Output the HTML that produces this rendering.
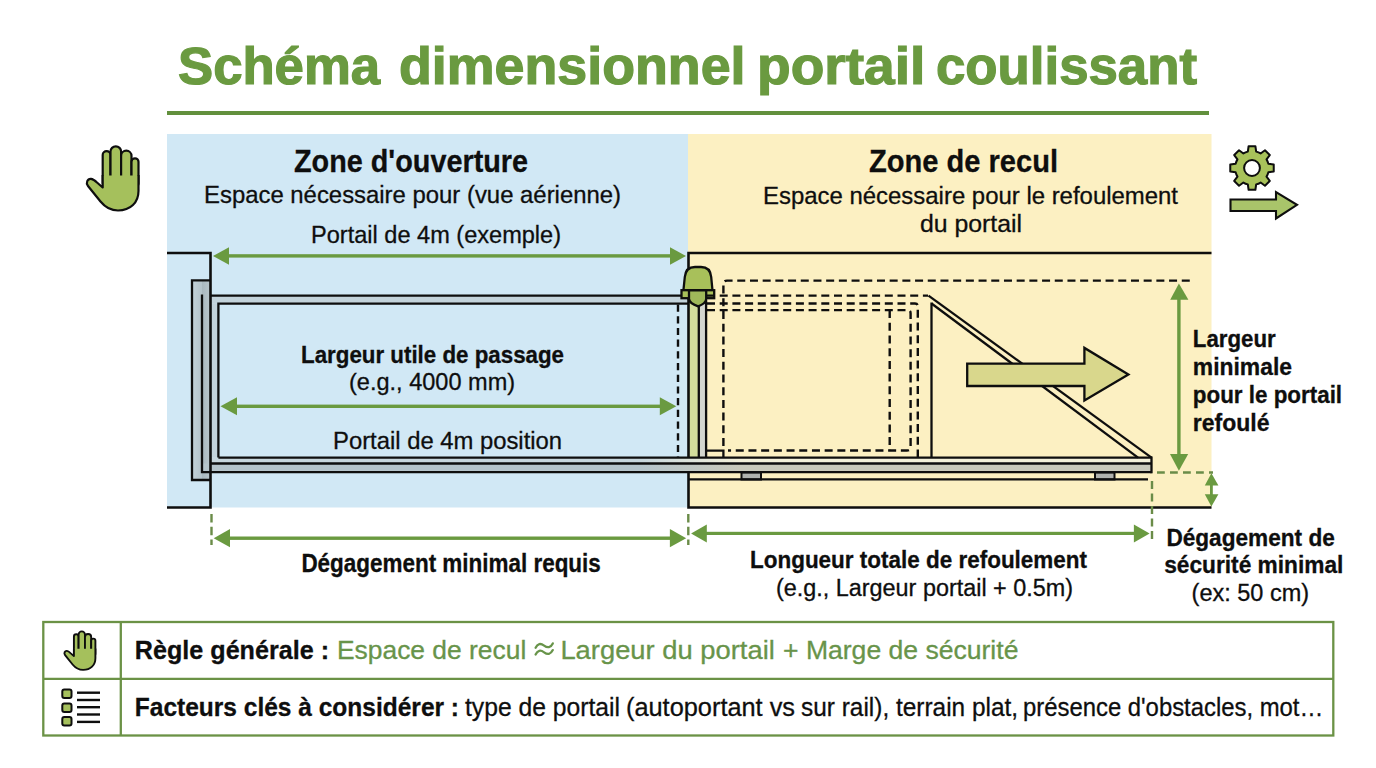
<!DOCTYPE html>
<html><head><meta charset="utf-8">
<style>
html,body{margin:0;padding:0;background:#fff;width:1376px;height:768px;overflow:hidden}
svg{display:block}
text{font-family:"Liberation Sans",sans-serif}
.b{font-weight:bold}
</style></head>
<body>
<svg width="1376" height="768" viewBox="0 0 1376 768">
<rect x="0" y="0" width="1376" height="768" fill="#ffffff"/>
<rect x="167" y="111" width="1042" height="4" fill="#62903d"/>
<rect x="167" y="134" width="521.5" height="373.5" fill="#d1e8f5"/>
<rect x="688" y="134" width="523.5" height="373.5" fill="#fcf0c2"/>
<defs><linearGradient id="gpost" x1="0" x2="1" y1="0" y2="0"><stop offset="0" stop-color="#c3d2d9"/><stop offset="1" stop-color="#b4c3ca"/></linearGradient><linearGradient id="gpost2" x1="0" x2="1" y1="0" y2="0"><stop offset="0" stop-color="#a9b8bf"/><stop offset="1" stop-color="#b9c6cc"/></linearGradient></defs>
<rect x="192" y="280" width="10" height="200" fill="url(#gpost)"/>
<rect x="202" y="280" width="8.5" height="200" fill="url(#gpost2)"/>
<rect x="210.5" y="295.6" width="478" height="8.1" fill="#c3d3db"/>
<rect x="210.5" y="303.7" width="7.9" height="154" fill="#c3d3db"/>
<defs><linearGradient id="rup" gradientUnits="userSpaceOnUse" x1="640" x2="740" y1="0" y2="0"><stop offset="0" stop-color="#c7d6dd"/><stop offset="1" stop-color="#f3f0d9"/></linearGradient><linearGradient id="rlo" gradientUnits="userSpaceOnUse" x1="640" x2="740" y1="0" y2="0"><stop offset="0" stop-color="#b5c4cb"/><stop offset="1" stop-color="#c9c9bb"/></linearGradient></defs>
<rect x="210.5" y="457.6" width="941" height="5.9" fill="url(#rup)"/>
<rect x="202" y="463.5" width="949.5" height="8.7" fill="url(#rlo)"/>
<rect x="689" y="298" width="9.8" height="160" fill="#d3dd9c"/>
<rect x="698.8" y="298" width="7.3" height="160" fill="#d3d6cf"/>
<rect x="741.5" y="472.5" width="19.5" height="7" fill="#b0b2ae" stroke="#0e0e0e" stroke-width="2"/>
<rect x="1095" y="472.5" width="19.5" height="7" fill="#b0b2ae" stroke="#0e0e0e" stroke-width="2"/>
<path d="M210.5,280.3 H192 V480 H210.5" fill="none" stroke="#0e0e0e" stroke-width="2.3"/>
<path d="M202,294.5 V472.2 H1151.5" fill="none" stroke="#0e0e0e" stroke-width="2.3"/>
<line x1="210.5" y1="295.6" x2="688.5" y2="295.6" stroke="#0e0e0e" stroke-width="2.3" stroke-linecap="butt"/>
<path d="M218.4,457.6 V303.7 H688.5" fill="none" stroke="#0e0e0e" stroke-width="2.3"/>
<line x1="218.4" y1="457.6" x2="1151.5" y2="457.6" stroke="#0e0e0e" stroke-width="2.3" stroke-linecap="butt"/>
<line x1="210.5" y1="463.5" x2="1151.5" y2="463.5" stroke="#0e0e0e" stroke-width="2.3" stroke-linecap="butt"/>
<line x1="1151.5" y1="456.5" x2="1151.5" y2="473.3" stroke="#0e0e0e" stroke-width="2.3" stroke-linecap="butt"/>
<line x1="688.5" y1="479.3" x2="1148" y2="479.3" stroke="#0e0e0e" stroke-width="2.3" stroke-linecap="butt"/>
<path d="M167,253 H210.5 V507.5 H167" fill="none" stroke="#0e0e0e" stroke-width="2.6"/>
<path d="M1211.5,253 H688.5 V457.6 M688.5,472.2 V507.5 H1211.5" fill="none" stroke="#0e0e0e" stroke-width="2.6"/>
<line x1="698.8" y1="300" x2="698.8" y2="458" stroke="#0e0e0e" stroke-width="2.3" stroke-linecap="butt"/>
<line x1="706.1" y1="300" x2="706.1" y2="458" stroke="#0e0e0e" stroke-width="2.3" stroke-linecap="butt"/>
<path d="M683.4,290.5 L684.8,277 Q685.8,267 695,267 L701,267 Q710.2,267 711.2,277 L712.5,290.5 Z" fill="#a8c05a" stroke="#0e0e0e" stroke-width="2.3" stroke-linejoin="round"/>
<rect x="681.5" y="290.2" width="32.7" height="8" fill="#a8c05a" stroke="#0e0e0e" stroke-width="2.3"/>
<path d="M689,290.3 V299 Q689.5,303.5 698.2,306.3 Q705.8,303.5 706.2,299 V290.3 Z" fill="#9fb85a" stroke="#0e0e0e" stroke-width="2.3" stroke-linejoin="round"/>
<path d="M723.4,446 V284 Q723.4,280.6 727,280.6 H1194" fill="none" stroke="#0e0e0e" stroke-width="2.4" stroke-dasharray="8 4.7"/>
<line x1="707" y1="295.6" x2="928" y2="295.6" stroke="#0e0e0e" stroke-width="2.4" stroke-dasharray="8 4.7" stroke-linecap="butt"/>
<path d="M707,303.5 H915 Q917.8,303.5 917.8,306.5 V457" fill="none" stroke="#0e0e0e" stroke-width="2.4" stroke-dasharray="8 4.7"/>
<path d="M707,310.1 H907.5 Q910.6,310.1 910.6,313.5 V447 Q910.6,450.5 907,450.5 H728" fill="none" stroke="#0e0e0e" stroke-width="2.4" stroke-dasharray="8 4.7"/>
<path d="M706.5,450.7 H723.4 V457.6" fill="none" stroke="#0e0e0e" stroke-width="2.3"/>
<line x1="889.7" y1="310.1" x2="889.7" y2="450.5" stroke="#0e0e0e" stroke-width="2.4" stroke-dasharray="8 4.7" stroke-linecap="butt"/>
<line x1="678" y1="304.5" x2="678" y2="457" stroke="#0e0e0e" stroke-width="2.4" stroke-dasharray="7.2 4.5" stroke-linecap="butt"/>
<line x1="931.5" y1="302.5" x2="931.5" y2="458" stroke="#0e0e0e" stroke-width="2.3" stroke-linecap="butt"/>
<path d="M928.5,295.6 L1151.5,457.6" fill="none" stroke="#0e0e0e" stroke-width="2.3"/>
<path d="M931.5,303.5 L1138,457.6" fill="none" stroke="#0e0e0e" stroke-width="2.3"/>
<polygon points="967.2,363.6 1084.4,363.6 1084.4,347.9 1128.4,374.5 1084.4,400.6 1084.4,386 967.2,386" fill="#d9d78c" stroke="#0e0e0e" stroke-width="2.3" stroke-linejoin="miter"/>
<rect x="228" y="254.20000000000002" width="443" height="3.4" fill="#6a9a40"/>
<polygon points="213,255.9 229,247.15 229,264.65" fill="#6a9a40"/>
<polygon points="686,255.9 670,247.15 670,264.65" fill="#6a9a40"/>
<rect x="236.0" y="404.6" width="424.79999999999995" height="3.4" fill="#6a9a40"/>
<polygon points="220.5,406.3 237.0,397.3 237.0,415.3" fill="#6a9a40"/>
<polygon points="676.3,406.3 659.8,397.3 659.8,415.3" fill="#6a9a40"/>
<rect x="229.0" y="536.5" width="441.9000000000001" height="3.4" fill="#6a9a40"/>
<polygon points="213.7,538.2 230.0,529.1 230.0,547.3000000000001" fill="#6a9a40"/>
<polygon points="686.2,538.2 669.9000000000001,529.1 669.9000000000001,547.3000000000001" fill="#6a9a40"/>
<rect x="705.8000000000001" y="531.8" width="429.0999999999998" height="3.2" fill="#6a9a40"/>
<polygon points="691.1,533.4 706.8000000000001,524.4 706.8000000000001,542.4" fill="#6a9a40"/>
<polygon points="1149.6,533.4 1133.8999999999999,524.4 1133.8999999999999,542.4" fill="#6a9a40"/>
<line x1="211.5" y1="514" x2="211.5" y2="545" stroke="#6a8c48" stroke-width="2.4" stroke-dasharray="8.5 4.3" stroke-linecap="butt"/>
<line x1="688.3" y1="514" x2="688.3" y2="545" stroke="#6a8c48" stroke-width="2.4" stroke-dasharray="8.5 4.3" stroke-linecap="butt"/>
<line x1="1152" y1="481" x2="1152" y2="541.3" stroke="#6a8c48" stroke-width="2.4" stroke-dasharray="8 4.5" stroke-linecap="butt"/>
<line x1="1157" y1="472.5" x2="1213" y2="472.5" stroke="#6a8c48" stroke-width="2.4" stroke-dasharray="7.8 5.2" stroke-linecap="butt"/>
<rect x="1177.2" y="297" width="3.4" height="158" fill="#6a9a40"/>
<polygon points="1178.9,283.4 1170.2,299.8 1188.4,299.8" fill="#6a9a40"/>
<polygon points="1178.9,470.7 1170,453.9 1188.2,453.9" fill="#6a9a40"/>
<rect x="1210" y="484" width="2.8" height="12" fill="#6a9a40"/>
<polygon points="1211.4,473.2 1204.8,485.6 1218.4,485.6" fill="#6a9a40"/>
<polygon points="1211.4,506.6 1204.8,494.2 1218.4,494.2" fill="#6a9a40"/>
<rect x="43.3" y="622" width="1290" height="113.5" fill="#fff" stroke="#6b9246" stroke-width="2.3"/>
<line x1="43" y1="678.9" x2="1333.5" y2="678.9" stroke="#6b9246" stroke-width="2.3" stroke-linecap="butt"/>
<line x1="120.8" y1="622" x2="120.8" y2="735.5" stroke="#6b9246" stroke-width="2.3" stroke-linecap="butt"/>
<rect x="62.3" y="689.4" width="9.2" height="8.6" rx="2" fill="#a5c05c" stroke="#0e0e0e" stroke-width="2"/>
<rect x="62.3" y="703.4" width="9.2" height="8.6" rx="2" fill="#a5c05c" stroke="#0e0e0e" stroke-width="2"/>
<rect x="62.3" y="717.0" width="9.2" height="8.6" rx="2" fill="#a5c05c" stroke="#0e0e0e" stroke-width="2"/>
<line x1="77" y1="692.7" x2="100" y2="692.7" stroke="#0e0e0e" stroke-width="2.4" stroke-linecap="butt"/>
<line x1="77" y1="700" x2="100" y2="700" stroke="#0e0e0e" stroke-width="2.4" stroke-linecap="butt"/>
<line x1="77" y1="707.2" x2="100" y2="707.2" stroke="#0e0e0e" stroke-width="2.4" stroke-linecap="butt"/>
<line x1="77" y1="714.5" x2="100" y2="714.5" stroke="#0e0e0e" stroke-width="2.4" stroke-linecap="butt"/>
<line x1="77" y1="721.9" x2="100" y2="721.9" stroke="#0e0e0e" stroke-width="2.4" stroke-linecap="butt"/>
<text x="178.0" y="84.3" font-size="51" class="b" fill="#6a9a40" stroke="#6a9a40" stroke-width="1.2" textLength="202.02" lengthAdjust="spacingAndGlyphs">Schéma</text>
<text x="399.0" y="84.3" font-size="51" class="b" fill="#6a9a40" stroke="#6a9a40" stroke-width="1.2" textLength="346.49" lengthAdjust="spacingAndGlyphs">dimensionnel</text>
<text x="757.0" y="84.3" font-size="51" class="b" fill="#6a9a40" stroke="#6a9a40" stroke-width="1.2" textLength="168.37" lengthAdjust="spacingAndGlyphs">portail</text>
<text x="936.0" y="84.3" font-size="51" class="b" fill="#6a9a40" stroke="#6a9a40" stroke-width="1.2" textLength="261.04" lengthAdjust="spacingAndGlyphs">coulissant</text>
<text x="294.0" y="172.3" font-size="31.5" class="b" fill="#0e0e0e" stroke="#0e0e0e" stroke-width="0.3" textLength="234.03" lengthAdjust="spacingAndGlyphs">Zone d'ouverture</text>
<text x="204.0" y="203.4" font-size="24.8" fill="#0e0e0e" stroke="#0e0e0e" stroke-width="0.3" textLength="417.03" lengthAdjust="spacingAndGlyphs">Espace nécessaire pour (vue aérienne)</text>
<text x="311.0" y="242.8" font-size="24.8" fill="#0e0e0e" stroke="#0e0e0e" stroke-width="0.3" textLength="250.04" lengthAdjust="spacingAndGlyphs">Portail de 4m (exemple)</text>
<text x="869.0" y="172.3" font-size="31.5" class="b" fill="#0e0e0e" stroke="#0e0e0e" stroke-width="0.3" textLength="189.03" lengthAdjust="spacingAndGlyphs">Zone de recul</text>
<text x="763.0" y="203.5" font-size="24.8" fill="#0e0e0e" stroke="#0e0e0e" stroke-width="0.3" textLength="415.02" lengthAdjust="spacingAndGlyphs">Espace nécessaire pour le refoulement</text>
<text x="920.0" y="231.5" font-size="24.8" fill="#0e0e0e" stroke="#0e0e0e" stroke-width="0.3" textLength="102.07" lengthAdjust="spacingAndGlyphs">du portail</text>
<text x="301.0" y="362.6" font-size="24.5" class="b" fill="#0e0e0e" stroke="#0e0e0e" stroke-width="0.3" textLength="263.03" lengthAdjust="spacingAndGlyphs">Largeur utile de passage</text>
<text x="349.0" y="389.9" font-size="24" fill="#0e0e0e" stroke="#0e0e0e" stroke-width="0.3" textLength="166.07" lengthAdjust="spacingAndGlyphs">(e.g., 4000 mm)</text>
<text x="333.0" y="448.8" font-size="24.8" fill="#0e0e0e" stroke="#0e0e0e" stroke-width="0.3" textLength="229.06" lengthAdjust="spacingAndGlyphs">Portail de 4m position</text>
<text x="1192.8" y="347.2" font-size="23" class="b" fill="#0e0e0e" stroke="#0e0e0e" stroke-width="0.3" textLength="82.85" lengthAdjust="spacingAndGlyphs">Largeur</text>
<text x="1192.8" y="375.2" font-size="23" class="b" fill="#0e0e0e" stroke="#0e0e0e" stroke-width="0.3" textLength="99.26" lengthAdjust="spacingAndGlyphs">minimale</text>
<text x="1192.8" y="403" font-size="23" class="b" fill="#0e0e0e" stroke="#0e0e0e" stroke-width="0.3" textLength="149.28" lengthAdjust="spacingAndGlyphs">pour le portail</text>
<text x="1192.8" y="431" font-size="23" class="b" fill="#0e0e0e" stroke="#0e0e0e" stroke-width="0.3" textLength="76.67" lengthAdjust="spacingAndGlyphs">refoulé</text>
<text x="301.4" y="571.9" font-size="25" class="b" fill="#0e0e0e" stroke="#0e0e0e" stroke-width="0.3" textLength="299.41" lengthAdjust="spacingAndGlyphs">Dégagement minimal requis</text>
<text x="750.0" y="567.5" font-size="23.5" class="b" fill="#0e0e0e" stroke="#0e0e0e" stroke-width="0.3" textLength="337.02" lengthAdjust="spacingAndGlyphs">Longueur totale de refoulement</text>
<text x="776.0" y="595.5" font-size="23" fill="#0e0e0e" stroke="#0e0e0e" stroke-width="0.3" textLength="297.04" lengthAdjust="spacingAndGlyphs">(e.g., Largeur portail + 0.5m)</text>
<text x="1166.4" y="545.6" font-size="23.3" class="b" fill="#0e0e0e" stroke="#0e0e0e" stroke-width="0.3" textLength="168.43" lengthAdjust="spacingAndGlyphs">Dégagement de</text>
<text x="1164.2" y="572.75" font-size="23.3" class="b" fill="#0e0e0e" stroke="#0e0e0e" stroke-width="0.3" textLength="179.23" lengthAdjust="spacingAndGlyphs">sécurité minimal</text>
<text x="1191.6" y="600.9" font-size="23.1" fill="#0e0e0e" stroke="#0e0e0e" stroke-width="0.3" textLength="117.5" lengthAdjust="spacingAndGlyphs">(ex: 50 cm)</text>
<text x="134.8" y="659.1" font-size="26" class="b" fill="#0e0e0e" stroke="#0e0e0e" stroke-width="0.3" textLength="194.28" lengthAdjust="spacingAndGlyphs">Règle générale :</text>
<text x="337.0" y="659.1" font-size="26" fill="#68944a" stroke="#68944a" stroke-width="0.3" textLength="189.27" lengthAdjust="spacingAndGlyphs">Espace de recul</text>
<text x="560.4" y="659.1" font-size="26" fill="#68944a" stroke="#68944a" stroke-width="0.3" textLength="214.46" lengthAdjust="spacingAndGlyphs">Largeur du portail</text>
<text x="783.0" y="659.1" font-size="26" fill="#68944a" stroke="#68944a" stroke-width="0.3" textLength="235.42" lengthAdjust="spacingAndGlyphs">+ Marge de sécurité</text>
<text x="134.8" y="716" font-size="26" class="b" fill="#0e0e0e" stroke="#0e0e0e" stroke-width="0.3" textLength="324.25" lengthAdjust="spacingAndGlyphs">Facteurs clés à considérer :</text>
<text x="465.0" y="716" font-size="26" fill="#0e0e0e" stroke="#0e0e0e" stroke-width="0.3" textLength="155.02" lengthAdjust="spacingAndGlyphs">type de portail</text>
<text x="626.0" y="716" font-size="26" fill="#0e0e0e" stroke="#0e0e0e" stroke-width="0.3" textLength="169.03" lengthAdjust="spacingAndGlyphs">(autoportant vs</text>
<text x="801.0" y="716" font-size="26" fill="#0e0e0e" stroke="#0e0e0e" stroke-width="0.3" textLength="217.07" lengthAdjust="spacingAndGlyphs">sur rail), terrain plat,</text>
<text x="1023.0" y="716" font-size="26" fill="#0e0e0e" stroke="#0e0e0e" stroke-width="0.3" textLength="300.3" lengthAdjust="spacingAndGlyphs">présence d'obstacles, mot…</text>
<path d="M535.6,647.8000000000001 C537.6,643.4 540.6,643.0 544.1,645.6 C547.6,648.2 550.6,647.8000000000001 552.8,643.4" fill="none" stroke="#68944a" stroke-width="2.3" stroke-linecap="round"/>
<path d="M535.6,654.5 C537.6,650.0999999999999 540.6,649.6999999999999 544.1,652.3 C547.6,654.9 550.6,654.5 552.8,650.0999999999999" fill="none" stroke="#68944a" stroke-width="2.3" stroke-linecap="round"/>
<g transform="translate(85,145) scale(1.0)">
<rect x="17.7" y="6.2" width="7.800000000000001" height="35.8" rx="3.9000000000000004" ry="3.9000000000000004" fill="#a5c05c" stroke="#0e0e0e" stroke-width="2.2"/>
<rect x="25.5" y="1.3" width="10.600000000000001" height="40.7" rx="5.300000000000001" ry="5.300000000000001" fill="#a5c05c" stroke="#0e0e0e" stroke-width="2.2"/>
<rect x="36.1" y="5.7" width="10.399999999999999" height="36.3" rx="5.199999999999999" ry="5.199999999999999" fill="#a5c05c" stroke="#0e0e0e" stroke-width="2.2"/>
<rect x="46.5" y="13.3" width="7.0" height="28.7" rx="3.5" ry="3.5" fill="#a5c05c" stroke="#0e0e0e" stroke-width="2.2"/>
<path d="M17.7,30.4 H53.5 V46 C53.5,57.5 45.5,65.5 33,65.5 C25.5,65.5 20,62 15.5,56.5 L3,41 C0.5,37.8 2.5,33.5 6,33.8 C8.2,34 10,35.5 12,37.5 L17.7,42.5 Z" fill="#a5c05c" stroke="none"/>
<path d="M17.7,30 V42.5 L12,37.5 C10,35.5 8.2,34 6,33.8 C2.5,33.5 0.5,37.8 3,41 L15.5,56.5 C20,62 25.5,65.5 33,65.5 C45.5,65.5 53.5,57.5 53.5,46 V30" fill="none" stroke="#0e0e0e" stroke-width="2.2" stroke-linejoin="round"/>
</g>
<g transform="translate(63.3,630.6) scale(0.6)">
<rect x="17.7" y="6.2" width="7.800000000000001" height="35.8" rx="3.9000000000000004" ry="3.9000000000000004" fill="#a5c05c" stroke="#0e0e0e" stroke-width="3.1666666666666665"/>
<rect x="25.5" y="1.3" width="10.600000000000001" height="40.7" rx="5.300000000000001" ry="5.300000000000001" fill="#a5c05c" stroke="#0e0e0e" stroke-width="3.1666666666666665"/>
<rect x="36.1" y="5.7" width="10.399999999999999" height="36.3" rx="5.199999999999999" ry="5.199999999999999" fill="#a5c05c" stroke="#0e0e0e" stroke-width="3.1666666666666665"/>
<rect x="46.5" y="13.3" width="7.0" height="28.7" rx="3.5" ry="3.5" fill="#a5c05c" stroke="#0e0e0e" stroke-width="3.1666666666666665"/>
<path d="M17.7,30.4 H53.5 V46 C53.5,57.5 45.5,65.5 33,65.5 C25.5,65.5 20,62 15.5,56.5 L3,41 C0.5,37.8 2.5,33.5 6,33.8 C8.2,34 10,35.5 12,37.5 L17.7,42.5 Z" fill="#a5c05c" stroke="none"/>
<path d="M17.7,30 V42.5 L12,37.5 C10,35.5 8.2,34 6,33.8 C2.5,33.5 0.5,37.8 3,41 L15.5,56.5 C20,62 25.5,65.5 33,65.5 C45.5,65.5 53.5,57.5 53.5,46 V30" fill="none" stroke="#0e0e0e" stroke-width="3.1666666666666665" stroke-linejoin="round"/>
</g>
<path d="M1247.82,151.63 L1248.60,146.26 L1255.40,146.26 L1256.18,151.63 A16.9,16.9 0 0 1 1260.62,153.46 L1264.97,150.23 L1269.77,155.03 L1266.54,159.38 A16.9,16.9 0 0 1 1268.37,163.82 L1273.74,164.60 L1273.74,171.40 L1268.37,172.18 A16.9,16.9 0 0 1 1266.54,176.62 L1269.77,180.97 L1264.97,185.77 L1260.62,182.54 A16.9,16.9 0 0 1 1256.18,184.37 L1255.40,189.74 L1248.60,189.74 L1247.82,184.37 A16.9,16.9 0 0 1 1243.38,182.54 L1239.03,185.77 L1234.23,180.97 L1237.46,176.62 A16.9,16.9 0 0 1 1235.63,172.18 L1230.26,171.40 L1230.26,164.60 L1235.63,163.82 A16.9,16.9 0 0 1 1237.46,159.38 L1234.23,155.03 L1239.03,150.23 L1243.38,153.46 A16.9,16.9 0 0 1 1247.82,151.63 Z" fill="#a8c25a" stroke="#0e0e0e" stroke-width="2" stroke-linejoin="round"/>
<circle cx="1252" cy="168" r="7.9" fill="#fff" stroke="#0e0e0e" stroke-width="2"/>
<polygon points="1230.5,199.5 1276,199.5 1276,192 1297,204.8 1276,218.5 1276,211 1230.5,211" fill="#a9c46a" stroke="#0e0e0e" stroke-width="2.1" stroke-linejoin="miter"/>
</svg>
</body></html>
